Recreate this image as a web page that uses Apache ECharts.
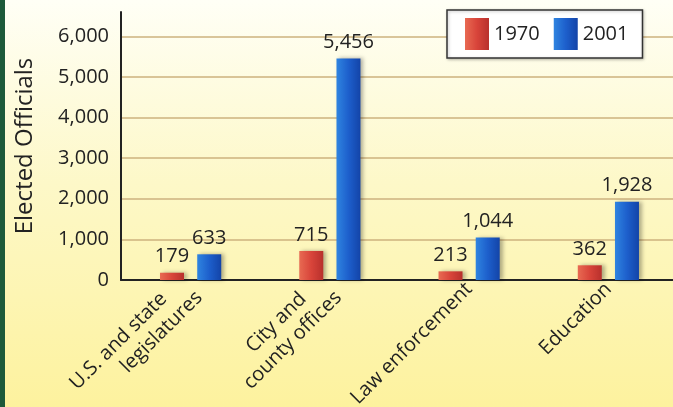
<!DOCTYPE html>
<html>
<head>
<meta charset="utf-8">
<script src="https://cdn.jsdelivr.net/npm/echarts@6/dist/echarts.min.js"></script>
<style>
  html, body { margin: 0; padding: 0; }
  #chart {
    width: 673px; height: 407px; box-sizing: border-box;
    border-left: 5px solid #1d5a3a;
    background: linear-gradient(to bottom, #fffff6 0%, #fdf8c8 45%, #fdf29e 100%);
  }
</style>
</head>
<body>
<div id="chart"></div>
<script>
// categories + values
var categories = ['U.S. and state\nlegislatures', 'City and\ncounty offices', 'Law enforcement', 'Education'];
var years = ['1970', '2001'];
var values1970 = [179, 715, 213, 362];
var values2001 = [633, 5456, 1044, 1928];
var yTicks = [0, 1000, 2000, 3000, 4000, 5000, 6000];

function fmt(v) { // 5456 -> 5,456
    return String(v).replace(/\B(?=(\d{3})+(?!\d))/g, ',');
}

var font = 'Open Sans';
var chart = echarts.init(document.getElementById('chart'));

chart.setOption({
    textStyle: { fontFamily: font },
    legend: {
        data: years,
        left: 442, top: 10,
        padding: [8, 14, 8, 18],
        icon: 'rect',
        itemWidth: 24, itemHeight: 32, itemGap: 14,
        backgroundColor: '#fff',
        borderColor: '#333', borderWidth: 1.5,
        shadowColor: 'rgba(0,0,0,0.25)', shadowBlur: 3, shadowOffsetX: 1, shadowOffsetY: 1,
        textStyle: { fontSize: 20, color: '#222', fontFamily: font }
    },
    grid: { left: 116, right: -5, top: 12, bottom: 127, containLabel: false, outerBoundsMode: 'none' },
    xAxis: {
        type: 'category',
        data: categories,
        axisLine: { lineStyle: { color: '#222', width: 2 } },
        axisTick: { show: false },
        axisLabel: {
            interval: 0, rotate: 45, margin: 6,
            fontSize: 20, color: '#222', fontFamily: font, lineHeight: 24,
            formatter: function (v) {
                var p = v.split('\n');
                if (p.length < 2) return v;
                return '{a|' + p[0] + '}\n' + p[1];
            },
            rich: { a: { fontSize: 20, color: '#222', fontFamily: font, padding: [0, 26, 0, 0] } }
        }
    },
    yAxis: {
        type: 'value',
        min: 0, max: 6600, interval: 1000,
        name: 'Elected Officials',
        nameLocation: 'middle', nameRotate: 90, nameGap: 84,
        nameTextStyle: { fontSize: 24, color: '#222', fontFamily: font },
        axisLine: { show: true, lineStyle: { color: '#222', width: 2 } },
        axisTick: { show: false },
        axisLabel: {
            margin: 12, fontSize: 20, color: '#222', fontFamily: font,
            showMaxLabel: false,
            formatter: function (v) { return yTicks.indexOf(v) >= 0 ? fmt(v) : ''; }
        },
        splitLine: {
            lineStyle: {
                color: ['#cdb27e', '#cdb27e', '#cdb27e', '#cdb27e', '#cdb27e', '#cdb27e', '#cdb27e', 'rgba(0,0,0,0)'],
                width: 1.5
            }
        }
    },
    series: [{
        name: '1970',
        type: 'bar',
        barWidth: 24, barGap: '55%',
        data: values1970,
        itemStyle: {
            color: new echarts.graphic.LinearGradient(0, 0, 1, 0, [
                { offset: 0, color: '#e86a52' }, { offset: 0.5, color: '#d8443a' }, { offset: 1, color: '#b8302c' }
            ]),
            shadowColor: 'rgba(0,0,0,0.3)', shadowBlur: 4, shadowOffsetX: 3
        },
        label: {
            show: true, position: 'top', distance: 6,
            fontSize: 20, color: '#222', fontFamily: font,
            formatter: function (p) { return fmt(p.value); }
        }
    }, {
        name: '2001',
        type: 'bar',
        barWidth: 24,
        data: values2001,
        itemStyle: {
            color: new echarts.graphic.LinearGradient(0, 0, 1, 0, [
                { offset: 0, color: '#2f84e0' }, { offset: 0.5, color: '#1d5fcc' }, { offset: 1, color: '#1344a8' }
            ]),
            shadowColor: 'rgba(0,0,0,0.3)', shadowBlur: 4, shadowOffsetX: 3
        },
        label: {
            show: true, position: 'top', distance: 6,
            fontSize: 20, color: '#222', fontFamily: font,
            formatter: function (p) { return fmt(p.value); }
        }
    }]
});
</script>
</body>
</html>
